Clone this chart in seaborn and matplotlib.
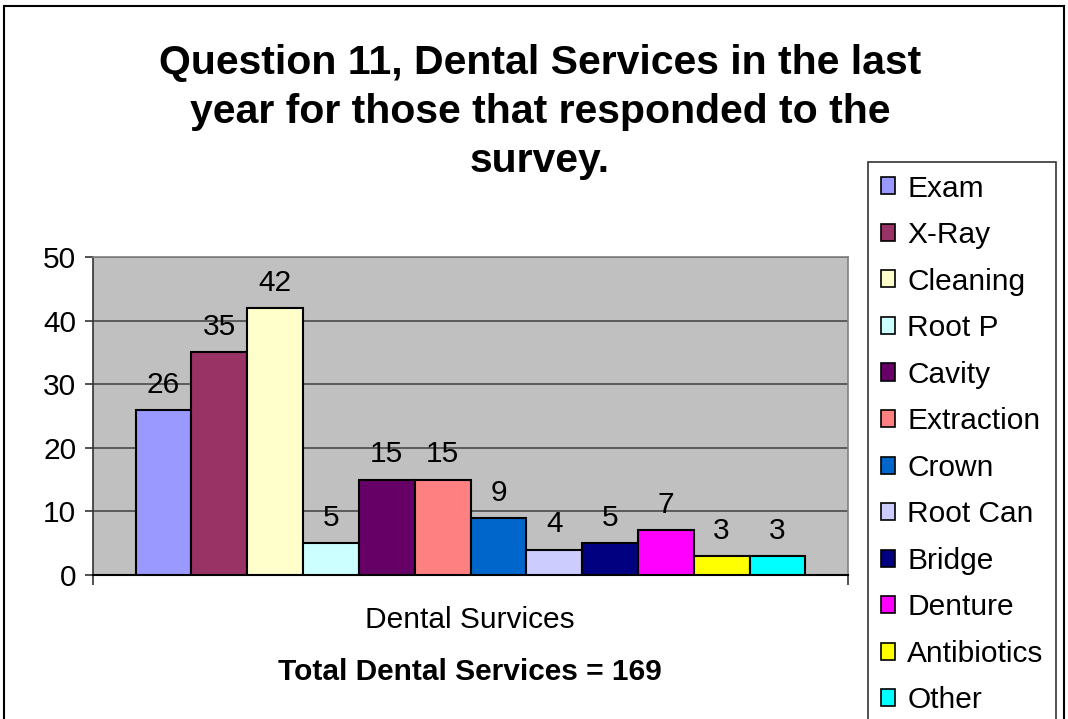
import matplotlib
matplotlib.use("Agg")
import matplotlib.pyplot as plt
from matplotlib.patches import Rectangle
import seaborn as sns
import pandas as pd

# Survey responses: dental services received in the last year
services = ["Exam", "X-Ray", "Cleaning", "Root P", "Cavity", "Extraction",
            "Crown", "Root Can", "Bridge", "Denture", "Antibiotics", "Other"]
counts = [26, 35, 42, 5, 15, 15, 9, 4, 5, 7, 3, 3]
colors = ["#9999FF", "#993366", "#FFFFCC", "#CCFFFF", "#660066", "#FF8080",
          "#0066CC", "#CCCCFF", "#000080", "#FF00FF", "#FFFF00", "#00FFFF"]
group_label = "Dental Survices"
y_ticks = [0, 10, 20, 30, 40, 50]

df = pd.DataFrame({"group": [group_label] * len(services),
                   "service": services, "count": counts})

sns.set_style("white")
plt.rcParams["font.family"] = ["Liberation Sans", "DejaVu Sans"]
plt.rcParams["text.color"] = "black"
plt.rcParams["ytick.color"] = "black"
plt.rcParams["ytick.labelcolor"] = "black"

W, H = 1068, 719
fig = plt.figure(figsize=(W / 100, H / 100), dpi=100)
ax = fig.add_axes([93 / W, 1 - 575 / H, (848 - 93) / W, (575 - 257) / H])
ax.set_facecolor("#C0C0C0")

sns.barplot(data=df, x="group", y="count", hue="service", hue_order=services,
            palette=colors, width=0.887, dodge=True, saturation=1,
            edgecolor="black", linewidth=1.5, legend=False, ax=ax, zorder=3)

for cont in ax.containers:
    ax.bar_label(cont, padding=8, fontsize=21.5, color="black", zorder=4)

ax.set_xlim(-0.5, 0.5)
ax.set_ylim(0, 50)
ax.set_yticks(y_ticks)
ax.set_xticks([-0.5, 0.5])
ax.set_xticklabels([])
ax.set_xlabel("")
ax.set_ylabel("")
ax.yaxis.grid(True, color="#4a4a4a", linewidth=1.2, zorder=1)
ax.set_axisbelow(True)
ax.tick_params(axis="y", labelsize=21.5, length=6, width=1.2, color="#333333",
               labelcolor="black", left=True, pad=6)
ax.tick_params(axis="x", length=7, width=1.2, color="#333333", bottom=True)
for side in ["top", "right"]:
    ax.spines[side].set_color("#808080")
    ax.spines[side].set_linewidth(1.2)
ax.spines["left"].set_color("#333333")
ax.spines["left"].set_linewidth(1.2)
ax.spines["bottom"].set_color("black")
ax.spines["bottom"].set_linewidth(1.5)

fig.text(540 / W, 1 - 112 / H,
         "Question 11, Dental Services in the last\nyear for those that responded to the\nsurvey.",
         ha="center", va="center", fontsize=29.5, fontweight="bold",
         linespacing=1.36, color="black")
fig.text(470 / W, 1 - 620 / H, group_label, ha="center", va="center",
         fontsize=21.5, color="black")
fig.text(470 / W, 1 - 672 / H, "Total Dental Services = 169", ha="center",
         va="center", fontsize=21.5, fontweight="bold", color="black")

handles = [Rectangle((0, 0), 1, 1, facecolor=c, edgecolor="black", linewidth=1.2)
           for c in colors]
leg = fig.legend(handles, services, loc="upper left",
                 bbox_to_anchor=(868 / W, 1 - 162 / H),
                 bbox_transform=fig.transFigure, fontsize=21.5,
                 frameon=True, fancybox=False, shadow=False, borderaxespad=0,
                 handlelength=0.5, handleheight=0.5, handletextpad=0.4,
                 labelspacing=0.62, borderpad=0.42)
for t in leg.get_texts():
    t.set_color("black")
leg.get_frame().set_edgecolor("black")
leg.get_frame().set_linewidth(1.2)
leg.get_frame().set_facecolor("white")

# outer chart frame
fig.patches.append(Rectangle((4 / W, -0.01), (1064 - 4) / W, 1 - 6 / H + 0.01,
                             transform=fig.transFigure, fill=False,
                             edgecolor="black", linewidth=1.5, zorder=0))

fig.savefig("out.png", dpi=100)
